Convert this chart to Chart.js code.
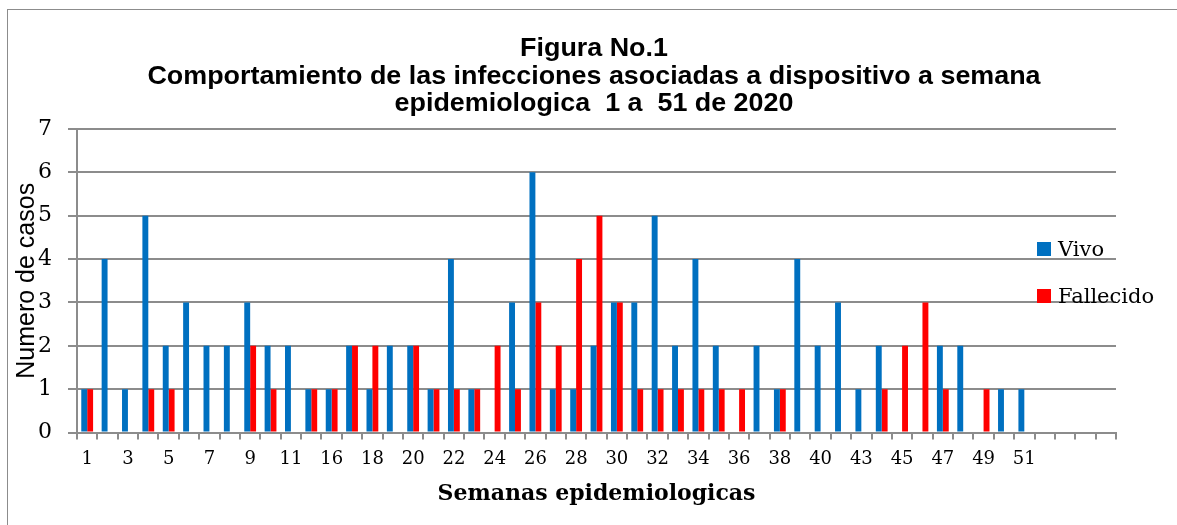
<!DOCTYPE html>
<html lang="es">
<head>
    <meta charset="UTF-8">
    <title>Figura No.1</title>
    <script src="https://cdn.jsdelivr.net/npm/chart.js"></script>
    <style>
        html, body { margin: 0; padding: 0; background: #fff; overflow: hidden; }
        .wrap { position: relative; width: 1177px; height: 525px; }
        .frame { position: absolute; left: 7px; top: 9px; width: 1200px; height: 600px; border: 1px solid #8c8c8c; }
        #title { position: absolute; left: 11px; top: 34px; width: 1166px; text-align: center; font-family: "Liberation Sans", Arial, sans-serif;
                 font-weight: bold; font-size: 25px; line-height: 27.5px; color: #000; transform: scaleX(1.075); transform-origin: 583px 0; white-space: pre; }
        #legend { position: absolute; left: 1037px; top: 234px; font-family: "DejaVu Serif", serif; font-size: 21px; color: #000; }
        #legend .item { display: flex; align-items: center; height: 30px; margin-bottom: 17px; }
        #legend .box { width: 14px; height: 14px; margin-right: 7px; }
    </style>
</head>
<body>
<div class="wrap">
    <div class="frame"></div>
    <canvas id="chart" width="1177" height="525"></canvas>
    <div id="title"></div>
    <div id="legend"></div>
</div>
<script>
    const titulo = ["Figura No.1",
        "Comportamiento de las infecciones asociadas a dispositivo a semana",
        "epidemiologica  1 a  51 de 2020"];
    // semanas epidemiologicas (las ultimas cuatro posiciones van vacias)
    const semanas = ["1","2","3","4","5","6","7","8","9","10","11","14","16","17","18","19","20","21","22","23",
        "24","25","26","27","28","29","30","31","32","33","34","35","36","37","38","39","40","41","43","44",
        "45","46","47","48","49","50","51","","","",""];
    const vivo = [1,4,1,5,2,3,2,2,3,2,2,1,1,2,1,2,2,1,4,1,
        0,3,6,1,1,2,3,3,5,2,4,2,0,2,1,4,2,3,1,2,
        0,0,2,2,0,1,1,0,0,0,0];
    const fallecido = [1,0,0,1,1,0,0,0,2,1,0,1,1,2,2,0,2,1,1,1,
        2,1,3,2,4,5,3,1,1,1,1,1,1,0,1,0,0,0,0,1,
        2,3,1,0,1,0,0,0,0,0,0];
    const yTicks = [0,1,2,3,4,5,6,7];

    const gridColor = "#8c8c8c";

    document.getElementById("title").textContent = titulo.join("\n");

    const chart = new Chart(document.getElementById("chart"), {
        type: "bar",
        data: {
            labels: semanas,
            datasets: [
                { label: "Vivo", data: vivo, backgroundColor: "#0070c0", categoryPercentage: 0.58, barPercentage: 1.0 },
                { label: "Fallecido", data: fallecido, backgroundColor: "#ff0000", categoryPercentage: 0.58, barPercentage: 1.0 }
            ]
        },
        options: {
            responsive: false,
            animation: false,
            layout: { padding: { top: 129, left: 0, right: 61, bottom: 18 } },
            plugins: {
                legend: { display: false },
                tooltip: { enabled: false },
                title: { display: false }
            },
            scales: {
                x: {
                    grid: { display: true, drawOnChartArea: false, drawTicks: true, tickLength: 7, offset: true, color: gridColor, lineWidth: 2 },
                    border: { color: gridColor, width: 2 },
                    ticks: {
                        autoSkip: false,
                        maxRotation: 0,
                        minRotation: 0,
                        padding: 11,
                        color: "#000",
                        font: { family: "'DejaVu Serif', serif", size: 18, lineHeight: 1 },
                        callback: function (value, index) {
                            return index % 2 === 0 ? this.getLabelForValue(value) : "";
                        }
                    },
                    title: {
                        display: true,
                        text: "Semanas epidemiologicas",
                        color: "#000",
                        font: { family: "'DejaVu Serif', serif", size: 22, weight: "bold", lineHeight: 1.2 },
                        padding: { top: 1, bottom: 0 }
                    }
                },
                y: {
                    min: yTicks[0],
                    max: yTicks[yTicks.length - 1],
                    afterBuildTicks: axis => { axis.ticks = yTicks.map(v => ({ value: v })); },
                    grid: { color: gridColor, lineWidth: 2, tickLength: 9 },
                    border: { color: gridColor, width: 2 },
                    ticks: {
                        padding: 16,
                        color: "#000",
                        font: { family: "'DejaVu Serif', serif", size: 22 }
                    },
                    title: {
                        display: true,
                        text: "Numero de casos",
                        color: "#000",
                        font: { family: "'Liberation Sans', Arial, sans-serif", size: 25, lineHeight: 1.2 },
                        padding: { top: 12, bottom: -20 }
                    }
                }
            }
        }
    });

    // leyenda a la derecha, encima del area de trazado como en el original
    const legend = document.getElementById("legend");
    chart.data.datasets.forEach(ds => {
        let item = document.createElement("div");
        item.className = "item";
        let box = document.createElement("span");
        box.className = "box";
        box.style.background = ds.backgroundColor;
        let txt = document.createElement("span");
        txt.textContent = ds.label;
        item.appendChild(box);
        item.appendChild(txt);
        legend.appendChild(item);
    });
</script>
</body>
</html>
